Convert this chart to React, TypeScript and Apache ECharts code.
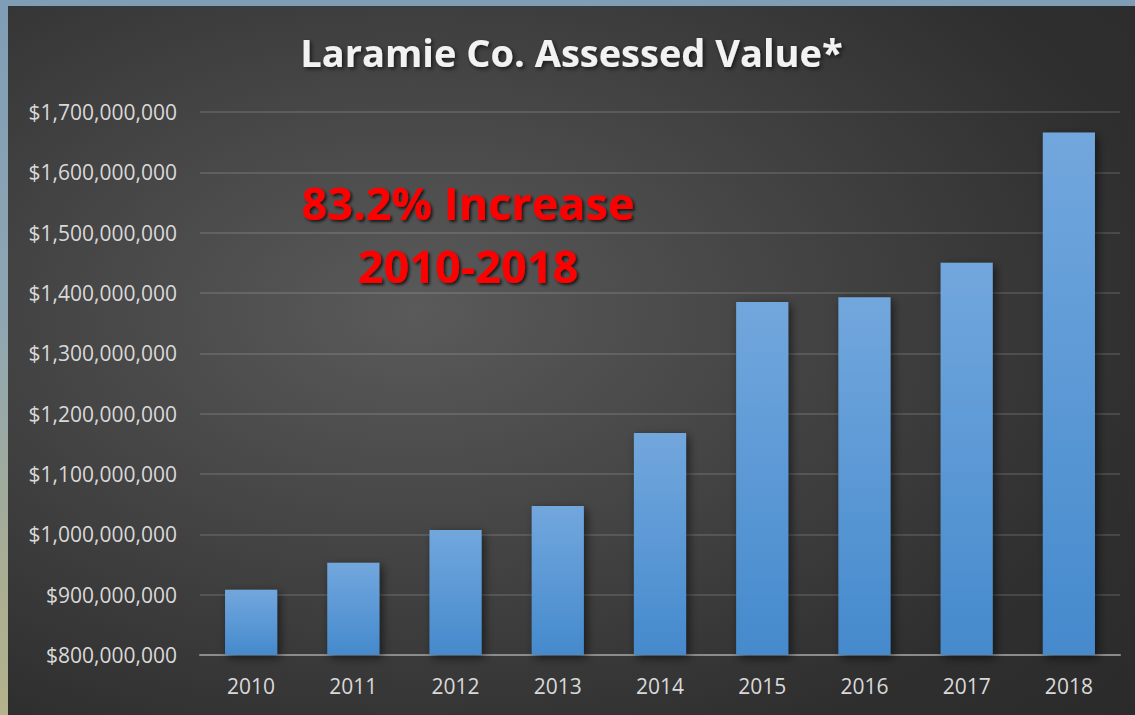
import React, { useEffect, useRef } from "react";
import * as echarts from "echarts";

const years = ["2010", "2011", "2012", "2013", "2014", "2015", "2016", "2017", "2018"];
const assessedValues = [
  908000000, 953000000, 1007000000, 1047000000, 1168000000,
  1385000000, 1393000000, 1450000000, 1666000000,
];
const titleText = "Laramie Co. Assessed Value*";
const noteLines = ["83.2% Increase", "2010-2018"];
const yMin = 800000000;
const yMax = 1700000000;
const yStep = 100000000;

export default function App() {
  const ref = useRef<HTMLDivElement>(null);
  useEffect(() => {
    if (!ref.current) return;
    const chart = echarts.init(ref.current, null, { renderer: "svg" });
    chart.setOption({
      animation: false,
      backgroundColor: {
        type: "radial",
        x: 0.36,
        y: 0.43,
        r: 1.1,
        colorStops: [
          { offset: 0, color: "#5a5a5a" },
          { offset: 0.6, color: "#2f2f2f" },
          { offset: 1, color: "#252525" },
        ],
      },
      title: {
        text: titleText,
        left: "center",
        top: 22,
        textStyle: {
          color: "#f2f2f2",
          fontFamily: "Open Sans",
          fontWeight: "bold",
          fontSize: 38,
          textShadowColor: "rgba(0,0,0,0.6)",
          textShadowBlur: 4,
          textShadowOffsetX: 2,
          textShadowOffsetY: 2,
        },
      },
      grid: { left: 192, right: 15, top: 106, bottom: 60, containLabel: false },
      xAxis: {
        type: "category",
        data: years,
        axisLine: { lineStyle: { color: "#8c8c8c", width: 2 } },
        axisTick: { show: false },
        axisLabel: {
          color: "#d9d9d9",
          fontFamily: "Open Sans",
          fontSize: 21,
          margin: 20,
        },
      },
      yAxis: {
        type: "value",
        min: yMin,
        max: yMax,
        interval: yStep,
        axisLine: { show: false },
        axisTick: { show: false },
        splitLine: { lineStyle: { color: "rgba(255,255,255,0.12)", width: 2 } },
        axisLabel: {
          color: "#d9d9d9",
          fontFamily: "Open Sans",
          fontSize: 21,
          margin: 23,
          formatter: (v: number) => "$" + v.toLocaleString("en-US"),
        },
      },
      series: [
        {
          type: "bar",
          data: assessedValues,
          barWidth: "51%",
          itemStyle: {
            color: {
              type: "linear",
              x: 0,
              y: 0,
              x2: 0,
              y2: 1,
              colorStops: [
                { offset: 0, color: "#72a7dd" },
                { offset: 1, color: "#458acd" },
              ],
            },
            shadowColor: "rgba(0,0,0,0.55)",
            shadowBlur: 10,
            shadowOffsetX: 3,
            shadowOffsetY: 3,
          },
        },
      ],
      graphic: [
        {
          type: "text",
          x: 468 - 8,
          y: 234 - 6,
          z: 100,
          style: {
            text: noteLines.join("\n"),
            fill: "#ff0000",
            font: "bold 45px 'Open Sans'",
            align: "center",
            verticalAlign: "middle",
            lineHeight: 63,
            textShadowColor: "rgba(0,0,0,0.7)",
            textShadowBlur: 3,
            textShadowOffsetX: 2,
            textShadowOffsetY: 2,
          },
        },
      ],
    });
    return () => chart.dispose();
  }, []);

  return (
    <div
      style={{
        position: "absolute",
        left: 0,
        top: 0,
        width: 1135,
        height: 715,
        overflow: "hidden",
        background: "linear-gradient(180deg, #7f9db5 0%, #8fa6b2 45%, #a9ad92 80%, #b3b38c 100%)",
      }}
    >
      <div ref={ref} style={{ position: "absolute", left: 8, top: 6, width: 1127, height: 709 }} />
    </div>
  );
}
